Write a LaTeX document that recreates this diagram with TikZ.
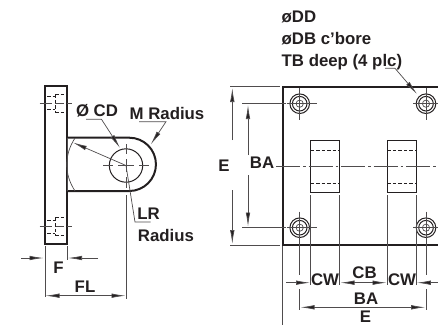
\documentclass[tikz,border=0pt]{standalone}
\usepackage{fontspec}
\setmainfont{Liberation Sans}
\usetikzlibrary{arrows.meta}
\definecolor{ink}{HTML}{231F20}
\tikzset{
 heavy/.style={draw=ink,line width=2pt,line join=miter},
 med/.style={draw=ink,line width=1pt},
 thin line/.style={draw=ink!80,line width=0.7pt},
 hid/.style={draw=ink,line width=0.8pt,dash pattern=on 3.5pt off 2pt},
 center line/.style={draw=ink!80,line width=0.7pt,dash pattern=on 24pt off 3pt on 2.5pt off 3pt},
 dim/.style={draw=ink!80,line width=0.7pt},
 tip/.style={-{Latex[length=14pt,width=4.5pt,fill=ink]}},
 lab/.style={font=\bfseries\fontsize{16.8}{19}\selectfont,text=ink,inner sep=0pt},
}
\begin{document}
\begin{tikzpicture}[x=1pt,y=-1pt]
\useasboundingbox (0,0) rectangle (438,325);
\clip (0,0) rectangle (438,325);
% LEFT VIEW
\draw[heavy] (44.7,85.7) rectangle (67,244);
\draw[heavy] (67,137.7) -- (129.3,137.7) arc[start angle=-90,end angle=90,radius=26.65] -- (67,191);
\draw[thin line] (67,137.7) -- (67,191);
\draw[thin line] (75,138) .. controls (64,155) and (64,174) .. (75,191);
\draw[med] (126,165.5) circle[radius=16.7];
\draw[thin line] (103,165.5) -- (113,165.5) (118,165.5) -- (134,165.5) (139,165.5) -- (149,165.5);
\draw[thin line] (126,144) -- (126,154) (126,159) -- (126,172) (126,177) -- (126,188);
% plate holes
\foreach \c in {103,226.7}{
 \draw[thin line] (39.5,\c) -- (52,\c) (55,\c) -- (64,\c) (67,\c) -- (72,\c);
 \draw[hid] (55,\c-9) -- (55,\c+9);
 \draw[hid] (55,\c-9) -- (65,\c-9) (55,\c+9) -- (65,\c+9);
 \draw[hid] (47,\c-6.3) -- (55,\c-6.3) (47,\c+6.3) -- (55,\c+6.3);
}
% left dims
\draw[dim] (45,246) -- (45,297);
\draw[dim] (67,246) -- (67,260);
\draw[dim] (126,195) -- (126,299);
\draw[dim,tip] (21,258) -- (43.5,258);
\draw[dim,tip] (98,258) -- (68,258);
\draw[dim,tip] (85,295.7) -- (45.5,295.7);
\draw[dim,tip] (85,295.7) -- (125.5,295.7);
\draw[dim,tip] (126,165.5) -- (73,142.5);
\draw[dim,tip] (86,119.3) -- (101.5,119.3) -- (120,148);
\draw[dim,tip] (139,121.7) -- (166,121.7) -- (150.7,144.5);
\draw[dim] (126,165.5) -- (135,222) -- (150.7,222);
\node[lab] (cd) at (97,111) {Ø CD};
\node[lab] (mr) at (167,113) {M Radius};
\node[lab] (lr) at (148.5,213.5) {LR};
\node[lab] (rad) at (166,235) {Radius};
\node[lab] (f) at (58.5,268) {F};
\node[lab] (fl) at (85,287) {FL};
% RIGHT VIEW
\draw[heavy] (440,86.7) -- (282.7,86.7) -- (282.7,245) -- (440,245);
\foreach \x in {310.7,387.3}{
 \draw[med] (\x,140) rectangle (\x+29,192.7);
 \draw[hid] (\x,150) -- (\x+29,150) (\x,183) -- (\x+29,183);
}
\draw[center line] (276,166) -- (440,166);
\foreach \x in {299.7,426}{\foreach \y in {103.7,227.7}{
 \draw[med] (\x,\y) circle[radius=9.8];
 \draw[med] (\x,\y) circle[radius=7.3];
 \draw[thin line] (\x,\y) circle[radius=3.6];
 \draw[thin line] (\x-13,\y) -- (\x+17,\y);
 \draw[thin line] (\x,\y-16) -- (\x,\y+16);
}}
% right dims
\draw[dim] (230,86.7) -- (280,86.7);
\draw[dim] (230,245) -- (280,245);
\draw[dim] (242,103.7) -- (286,103.7);
\draw[dim] (242,227.7) -- (286,227.7);
\draw[dim,tip] (232.3,140) -- (232.3,88);
\draw[dim,tip] (232.3,190) -- (232.3,244);
\draw[dim,tip] (248,155) -- (248,105);
\draw[dim,tip] (248,175) -- (248,226.5);
\draw[dim] (282.7,246) -- (282.7,325);
\draw[dim] (299.7,243) -- (299.7,275) (299.7,289) -- (299.7,310);
\draw[dim] (426,243) -- (426,275) (426,289) -- (426,310);
\foreach \x in {310.7,339.7,387.3,416}{\draw[dim] (\x,195) -- (\x,285);}
\draw[dim,tip] (286,282.7) -- (310,282.7);
\draw[dim,tip] (363,282.7) -- (340.5,282.7);
\draw[dim,tip] (363,282.7) -- (386.5,282.7);
\draw[dim,tip] (438,282.7) -- (416.8,282.7);
\draw[dim,tip] (363,307.3) -- (300.5,307.3);
\draw[dim,tip] (363,307.3) -- (425.2,307.3);
\draw[dim,tip] (385,68.3) -- (395,68.3) -- (417,94);
\node[lab,anchor=base west] (dd) at (281.5,22.7) {øDD};
\node[lab,anchor=base west] (db) at (281.5,44) {øDB c'bore};
\node[lab,anchor=base west] (tb) at (281.5,66) {TB deep (4 plc)};
\node[lab] (e1) at (224,166) {E};
\node[lab] (ba1) at (262,163) {BA};
\node[lab] (cw1) at (325,279.5) {CW};
\node[lab] (cb) at (364.5,273) {CB};
\node[lab] (cw2) at (402,279.5) {CW};
\node[lab] (ba2) at (366,299) {BA};
\node[lab] (e2) at (365.5,316.5) {E};
\end{tikzpicture}
\end{document}
